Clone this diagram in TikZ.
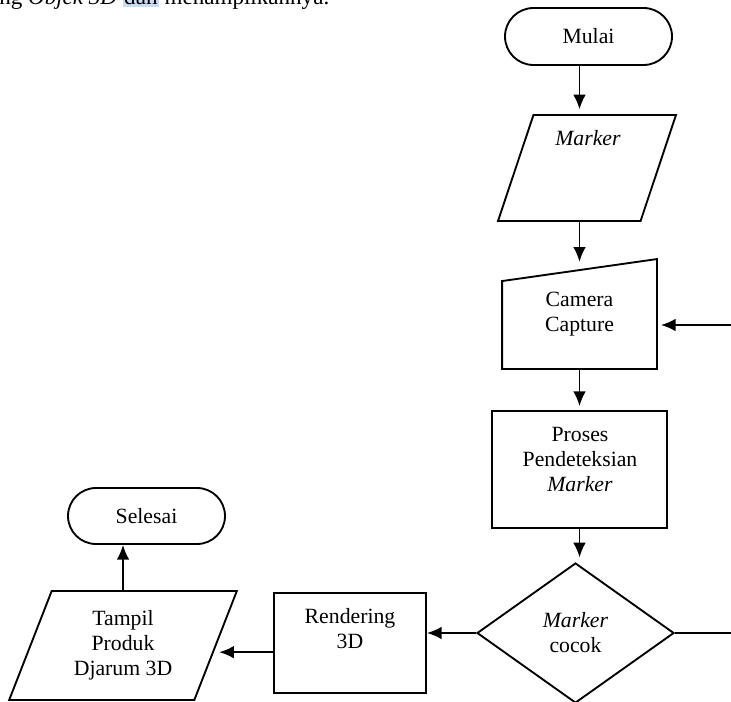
\documentclass[tikz,border=0pt]{standalone}
\usepackage{fontspec}
\setmainfont{Liberation Serif}
\usepackage{tikz}
\usetikzlibrary{shapes.misc}
\usetikzlibrary{shapes.geometric}
\usetikzlibrary{arrows.meta}
\definecolor{hlblue}{RGB}{200,220,242}

\tikzset{
  txt/.style={inner sep=0pt, align=center, font=\fontsize{16.3}{18.75}\selectfont},
  fcshape/.style={txt, draw=black, line width=1.4pt},
  term/.style={fcshape, rounded rectangle},
  io/.style={fcshape, inner sep=2pt, trapezium, trapezium stretches=true},
  proc/.style={fcshape, rectangle},
  decision/.style={fcshape, diamond},
  arr/.style={line width=1.4pt, -{Latex[length=11pt,width=9.5pt]}},
}

\begin{document}
\begin{tikzpicture}[x=0.75pt, y=-0.75pt]
  \useasboundingbox (0,0) rectangle (731,702);

  \begin{scope}
    \clip (0,0) rectangle (731,9);
    \node[txt, anchor=base west, font=\fontsize{17.3}{20}\selectfont] (kalimat) at (-1,5)
      {ng \textit{Objek 3D} {\fboxsep=1pt\colorbox{hlblue}{dan}} menampilkannya.};
  \end{scope}

  \node[term, minimum width=125.25pt, minimum height=42.75pt] (mulai) at (588.5,36.5) {Mulai};

  \node[io, trapezium left angle=71.7, trapezium right angle=108.3,
        minimum width=133.5pt, minimum height=79.5pt] (marker) at (587,168) {};
  \node[txt] (markertxt) at (588,138) {\textit{Marker}};

  \node[proc, draw=none, minimum width=114.75pt, minimum height=81pt] (cam) at (579.5,314) {Camera\\Capture};
  \draw[line width=1.4pt] (cam.south west) -- ([yshift=-16.5pt]cam.north west)
    -- (cam.north east) -- (cam.south east) -- cycle;

  \node[proc, minimum width=131.25pt, minimum height=87.75pt] (proses) at (579.5,469.5) {};
  \node[txt] (prosestxt) at (580,459) {Proses\\Pendeteksian\\\textit{Marker}};

  \node[decision, minimum width=147.75pt, minimum height=105pt] (cocok) at (575.5,633) {\textit{Marker}\\cocok};

  \node[proc, minimum width=114pt, minimum height=75pt] (rend) at (350,643) {};
  \node[txt] (rendtxt) at (350,629) {Rendering\\3D};

  \node[io, trapezium left angle=67.6, trapezium right angle=112.4,
        minimum width=171pt, minimum height=81.75pt] (tampil) at (123,645.5) {Tampil\\Produk\\Djarum 3D};

  \node[term, minimum width=117.75pt, minimum height=42pt] (selesai) at (146.5,516) {Selesai};

  \coordinate (loopin) at (731,325);
  \coordinate (loopout) at (731,633);
  \coordinate (tampilin) at ([yshift=-5pt]tampil.east);

  \draw[arr, shorten >=3.5pt] (mulai.south -| cam) -- (marker.north -| cam);
  \draw[arr] (marker.south -| cam) -- ([yshift=-2pt]cam.north);
  \draw[arr, shorten >=3pt] (cam.south) -- (proses.north);
  \draw[arr, shorten >=3.5pt] (proses.south) -- (proses.south |- cocok.north);
  \draw[arr, shorten >=3pt] (loopin) -- (cam.east |- loopin);
  \draw[line width=1.4pt] (cocok.east) -- (loopout);
  \draw[arr] (cocok.west) -- (rend.east |- cocok.west);
  \draw[arr, shorten >=2pt] (tampilin -| rend.west) -- (tampilin);
  \draw[arr] (tampil.north) -- (tampil.north |- selesai.south);
\end{tikzpicture}
\end{document}
